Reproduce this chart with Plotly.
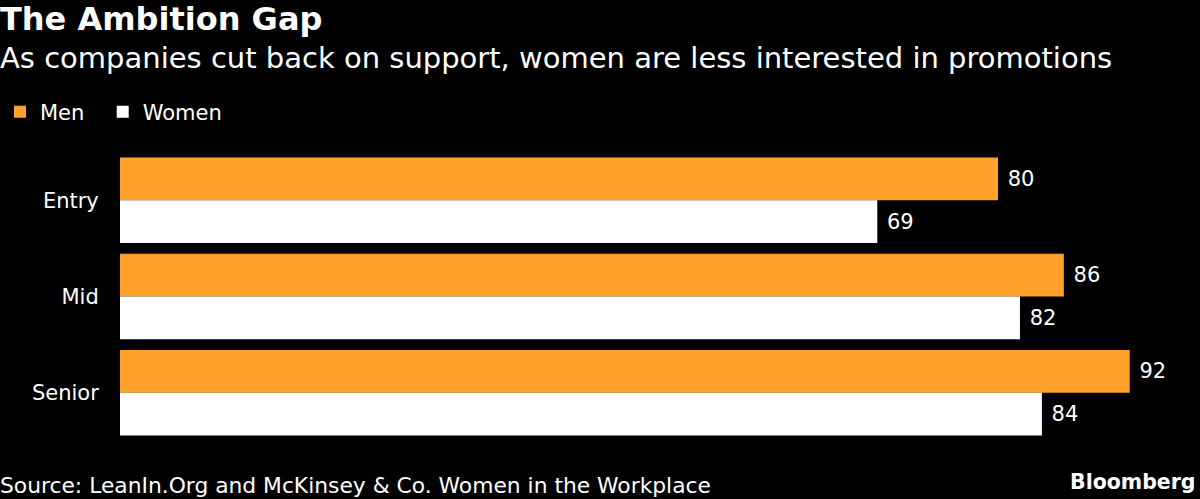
import plotly.graph_objects as go

categories = ["Entry", "Mid", "Senior"]
men = [80, 86, 92]
women = [69, 82, 84]

W, H = 1200, 499
ML, MR, MT, MB = 120, 10, 152, 58
PW = W - ML - MR
PH = H - MT - MB
FONT = "DejaVu Sans"
ORANGE = "#FFA12B"
NB = "\u00a0"

def px_x(x):
    return (x - ML) / PW

def px_y(y):
    return (H - MB - y) / PH

fig = go.Figure()
fig.add_trace(go.Bar(name="Men" + NB * 2, y=categories, x=men, orientation="h",
                     marker=dict(color=ORANGE, line=dict(width=0)),
                     text=[NB + str(v) for v in men], textposition="outside",
                     textfont=dict(color="white", size=21, family=FONT),
                     cliponaxis=False))
fig.add_trace(go.Bar(name="Women", y=categories, x=women, orientation="h",
                     marker=dict(color="white", line=dict(width=0)),
                     text=[NB + str(v) for v in women], textposition="outside",
                     textfont=dict(color="white", size=21, family=FONT),
                     cliponaxis=False))

fig.update_layout(
    width=W, height=H,
    paper_bgcolor="black", plot_bgcolor="black",
    margin=dict(l=ML, r=MR, t=MT, b=MB),
    barmode="group", bargap=0.113, bargroupgap=0,
    font=dict(family=FONT, color="white", size=21),
    showlegend=True,
    legend=dict(orientation="h", xref="container", yref="container",
                x=-11 / W, y=1 - 112 / H, xanchor="left", yanchor="middle",
                font=dict(size=21, color="white", family=FONT),
                bgcolor="rgba(0,0,0,0)", itemwidth=30, traceorder="normal"),
    xaxis=dict(range=[0, PW / 10.975], showgrid=False, zeroline=False,
               showticklabels=False, showline=False, ticks=""),
    yaxis=dict(autorange="reversed", showgrid=False, zeroline=False,
               showline=False, ticks="outside", ticklen=16, tickcolor="rgba(0,0,0,0)",
               tickfont=dict(size=21, color="white", family=FONT)),
    annotations=[
        dict(text="<b>The Ambition Gap</b>", xref="paper", yref="paper",
             x=px_x(-2), y=px_y(19), xanchor="left", yanchor="middle", showarrow=False,
             font=dict(size=32, color="white", family=FONT)),
        dict(text="As companies cut back on support, women are less interested in promotions",
             xref="paper", yref="paper", x=px_x(-2), y=px_y(58), xanchor="left", yanchor="middle",
             showarrow=False, font=dict(size=29, color="white", family=FONT)),
        dict(text="Source: LeanIn.Org and McKinsey & Co. Women in the Workplace",
             xref="paper", yref="paper", x=px_x(-2), y=px_y(485), xanchor="left", yanchor="middle",
             showarrow=False, font=dict(size=21.8, color="white", family=FONT)),
        dict(text="<b>Bloomberg</b>", xref="paper", yref="paper", x=px_x(1198), y=px_y(482),
             xanchor="right", yanchor="middle", showarrow=False,
             font=dict(size=20.5, color="white", family=FONT)),
    ],
)

fig.write_html("out.html", config={"displayModeBar": False},
               post_script="document.body.style.margin='0';")
